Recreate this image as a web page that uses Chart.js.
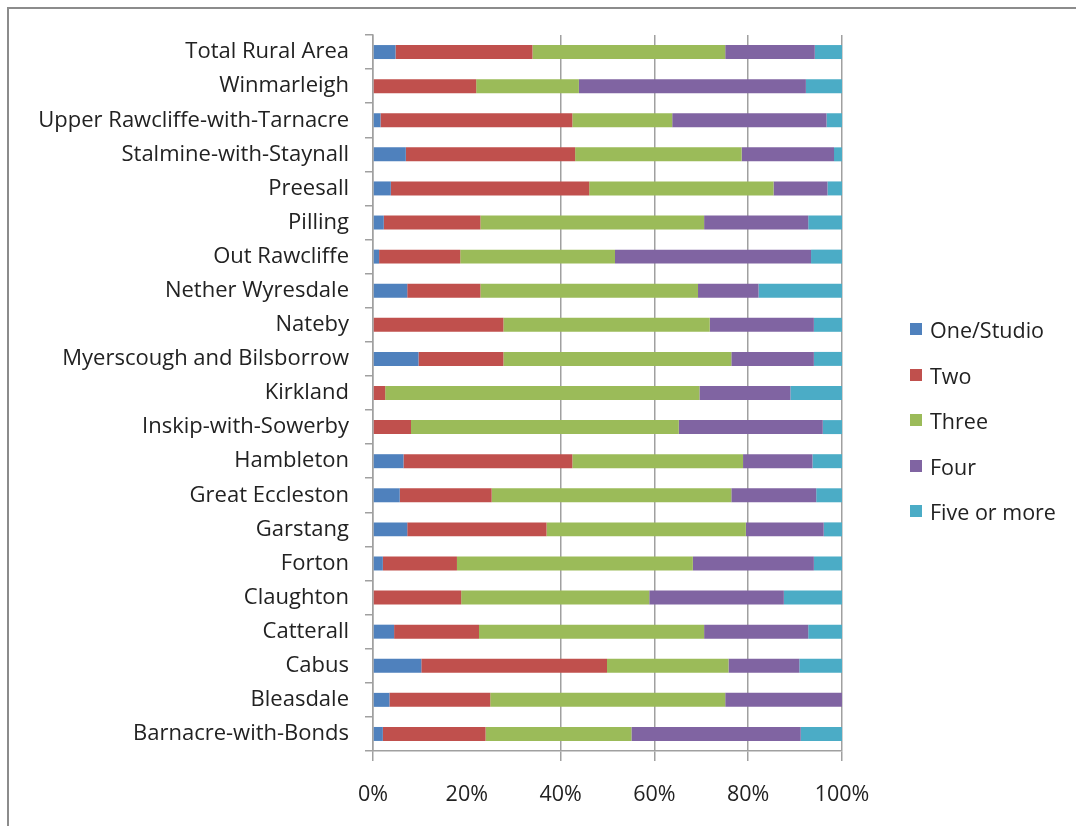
<!DOCTYPE html>
<html>
<head>
<meta charset="utf-8">
<script src="https://cdn.jsdelivr.net/npm/chart.js@4"></script>
<style>
  html, body { margin: 0; padding: 0; background: #fff; }
  #wrap { position: relative; width: 1076px; height: 826px; overflow: hidden; }
  #frame { position: absolute; left: 7px; top: 7px; width: 1200px; height: 1000px;
           border-left: 2px solid #8c8c8c; border-top: 2px solid #8c8c8c; pointer-events: none; }
  #legend { position: absolute; left: 910px; top: 315px; margin: 0; padding: 0; list-style: none;
            font-family: "Open Sans", sans-serif; font-size: 21.5px; color: #222; }
  #legend li { height: 45.5px; display: flex; align-items: flex-start; white-space: nowrap; }
  #legend .box { display: inline-block; width: 12px; height: 12px; margin: 8px 8px 0 0; }
</style>
</head>
<body>
<div id="wrap">
  <canvas id="chart" width="1076" height="826"></canvas>
  <ul id="legend"></ul>
  <div id="frame"></div>
</div>
<script>
// Share of dwellings by number of bedrooms, per parish
const areas = [
  'Total Rural Area', 'Winmarleigh', 'Upper Rawcliffe-with-Tarnacre', 'Stalmine-with-Staynall',
  'Preesall', 'Pilling', 'Out Rawcliffe', 'Nether Wyresdale', 'Nateby',
  'Myerscough and Bilsborrow', 'Kirkland', 'Inskip-with-Sowerby', 'Hambleton',
  'Great Eccleston', 'Garstang', 'Forton', 'Claughton', 'Catterall', 'Cabus',
  'Bleasdale', 'Barnacre-with-Bonds'
];
const oneStudio  = [4.8, 0, 1.6, 7.0, 3.8, 2.3, 1.3, 7.3, 0, 9.7, 0, 0, 6.5, 5.7, 7.3, 2.1, 0, 4.5, 10.3, 3.5, 2.1];
const two        = [29.2, 22.0, 40.9, 36.1, 42.3, 20.6, 17.3, 15.6, 27.8, 18.1, 2.6, 8.1, 36.0, 19.6, 29.7, 15.8, 18.8, 18.1, 39.6, 21.5, 21.9];
const three      = [41.1, 21.9, 21.3, 35.5, 39.3, 47.7, 33.0, 46.4, 44.0, 48.6, 67.0, 57.1, 36.4, 51.1, 42.5, 50.3, 40.1, 48.0, 25.9, 50.1, 31.1];
const four       = [19.1, 48.4, 32.9, 19.7, 11.5, 22.2, 41.8, 12.9, 22.2, 17.6, 19.4, 30.7, 14.8, 18.1, 16.6, 25.8, 28.7, 22.2, 15.1, 24.9, 36.1];
const fivePlus   = [5.8, 7.7, 3.3, 1.7, 3.1, 7.2, 6.6, 17.8, 6.0, 6.0, 11.0, 4.1, 6.3, 5.5, 3.9, 6.0, 12.4, 7.2, 9.1, 0, 8.8];
const xTicks = [0, 20, 40, 60, 80, 100];

const seriesNames = ['One/Studio', 'Two', 'Three', 'Four', 'Five or more'];
const seriesColors = ['#4f81bd', '#c0504d', '#9bbb59', '#8064a2', '#4bacc6'];
const seriesData = [oneStudio, two, three, four, fivePlus];

const gridGray = '#a0a0a0';
const labelFont = '"Open Sans", sans-serif';

// builds the side legend as a list from the chart's datasets
const htmlLegend = {
  id: 'htmlLegend',
  afterUpdate(chart) {
    const ul = document.getElementById('legend');
    ul.innerHTML = '';
    chart.data.datasets.forEach(ds => {
      const li = document.createElement('li');
      const box = document.createElement('span');
      box.className = 'box';
      box.style.background = ds.backgroundColor;
      li.appendChild(box);
      li.appendChild(document.createTextNode(ds.label));
      ul.appendChild(li);
    });
  }
};

new Chart(document.getElementById('chart'), {
  type: 'bar',
  data: {
    labels: areas,
    datasets: seriesNames.map((name, i) => ({
      label: name,
      data: seriesData[i],
      backgroundColor: seriesColors[i],
      borderWidth: 0,
      barPercentage: 1,
      categoryPercentage: 0.41
    }))
  },
  options: {
    indexAxis: 'y',
    responsive: false,
    animation: false,
    layout: { padding: { top: 35, right: 234, bottom: 0, left: 0 } },
    plugins: {
      legend: { display: false },
      tooltip: { enabled: false }
    },
    scales: {
      x: {
        stacked: true,
        min: 0,
        max: 100,
        afterBuildTicks: scale => { scale.ticks = xTicks.map(v => ({ value: v })); },
        afterFit: scale => { scale.height = 75; },
        grid: {
          // Excel left the 20% line out
          color: ctx => (ctx.tick && ctx.tick.value === 20) ? 'rgba(0,0,0,0)' : gridGray,
          lineWidth: 1.5,
          tickLength: 10
        },
        border: { color: gridGray, width: 1.5 },
        ticks: {
          padding: 21,
          color: '#222',
          font: { family: labelFont, size: 21.5 },
          callback: v => v + '%'
        }
      },
      y: {
        stacked: true,
        afterFit: scale => { scale.width = 373; },
        grid: { drawOnChartArea: false, color: gridGray, lineWidth: 1.5, tickLength: 8 },
        border: { color: gridGray, width: 1.5 },
        ticks: {
          padding: 16,
          color: '#222',
          autoSkip: false,
          font: { family: labelFont, size: 22 }
        }
      }
    }
  },
  plugins: [htmlLegend]
});
</script>
</body>
</html>
